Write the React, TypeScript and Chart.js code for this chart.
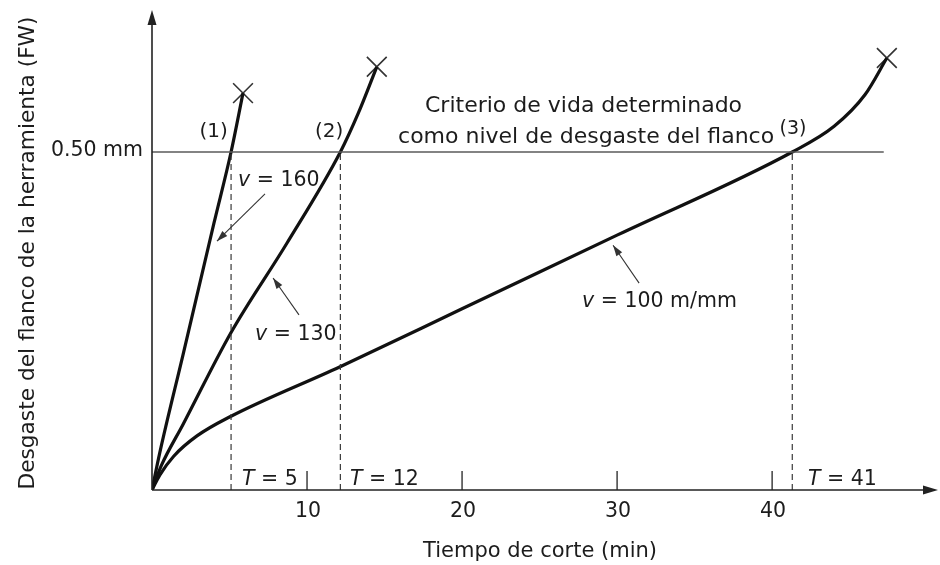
import React, { useEffect, useRef } from 'react';
import { Chart, registerables } from 'chart.js';

Chart.register(...registerables);

// ---- data ----
const xMax = 50.7;
const yMax = 0.71;
const xTicks = [10, 20, 30, 40];
const criterionY = 0.5;
const criterionEndX = 47.2;

const curve1 = [
  { x: 0, y: 0 },
  { x: 0.5, y: 0.055 },
  { x: 2.0, y: 0.2 },
  { x: 4.0, y: 0.395 },
  { x: 5.1, y: 0.5 },
  { x: 5.87, y: 0.587 },
];
const curve2 = [
  { x: 0, y: 0 },
  { x: 0.6, y: 0.036 },
  { x: 2.0, y: 0.097 },
  { x: 5.1, y: 0.233 },
  { x: 8.7, y: 0.365 },
  { x: 12.15, y: 0.5 },
  { x: 13.3, y: 0.557 },
  { x: 14.5, y: 0.626 },
];
const curve3 = [
  { x: 0, y: 0 },
  { x: 0.5, y: 0.022 },
  { x: 1.4, y: 0.05 },
  { x: 2.9, y: 0.08 },
  { x: 5.0, y: 0.108 },
  { x: 12.1, y: 0.182 },
  { x: 20.0, y: 0.268 },
  { x: 30.0, y: 0.377 },
  { x: 41.3, y: 0.5 },
  { x: 44.0, y: 0.538 },
  { x: 46.0, y: 0.585 },
  { x: 47.4, y: 0.639 },
];
const endPoints = [
  { x: 5.87, y: 0.587 },
  { x: 14.5, y: 0.626 },
  { x: 47.4, y: 0.639 },
];
const lifeTimes = [5.1, 12.15, 41.3];
const lifeLabels = ['5', '12', '41'];
const speedLabels = ['160', '130', '100 m/mm'];
const curveNumbers = ['(1)', '(2)', '(3)'];
const yTickLabel = '0.50 mm';
const xTitle = 'Tiempo de corte (min)';
const yTitle = 'Desgaste del flanco de la herramienta (FW)';
const criterionText = ['Criterio de vida determinado', 'como nivel de desgaste del flanco'];

const FONT = '"DejaVu Sans", sans-serif';
const TEXT = '#1c1c1c';

function drawParts(ctx: CanvasRenderingContext2D, parts: [string, boolean][], x: number, y: number, size: number) {
  let cx = x;
  for (const [t, it] of parts) {
    ctx.font = `${it ? 'italic ' : ''}${size}px ${FONT}`;
    ctx.fillText(t, cx, y);
    cx += ctx.measureText(t).width;
  }
}

function arrow(ctx: CanvasRenderingContext2D, x1: number, y1: number, x2: number, y2: number) {
  ctx.beginPath();
  ctx.moveTo(x1, y1);
  ctx.lineTo(x2, y2);
  ctx.stroke();
  const a = Math.atan2(y2 - y1, x2 - x1);
  const L = 11, W = 3.5;
  ctx.beginPath();
  ctx.moveTo(x2, y2);
  ctx.lineTo(x2 - L * Math.cos(a) + W * Math.sin(a), y2 - L * Math.sin(a) - W * Math.cos(a));
  ctx.lineTo(x2 - L * Math.cos(a) - W * Math.sin(a), y2 - L * Math.sin(a) + W * Math.cos(a));
  ctx.closePath();
  ctx.fill();
}

const annotate = {
  id: 'annotate',
  afterDraw(chart: any) {
    const { ctx, chartArea } = chart;
    const xs = chart.scales.x;
    const ys = chart.scales.y;
    const X = (v: number) => xs.getPixelForValue(v);
    const Y = (v: number) => ys.getPixelForValue(v);
    ctx.save();
    ctx.strokeStyle = '#222';
    ctx.fillStyle = '#222';
    ctx.lineWidth = 1.6;
    // y axis with arrow
    const x0 = X(0), y0 = Y(0);
    ctx.beginPath();
    ctx.moveTo(x0, y0);
    ctx.lineTo(x0, chartArea.top + 10);
    ctx.stroke();
    ctx.beginPath();
    ctx.moveTo(x0, chartArea.top);
    ctx.lineTo(x0 - 4.5, chartArea.top + 15);
    ctx.lineTo(x0 + 4.5, chartArea.top + 15);
    ctx.closePath();
    ctx.fill();
    // x axis with arrow
    ctx.beginPath();
    ctx.moveTo(x0, y0);
    ctx.lineTo(chartArea.right - 10, y0);
    ctx.stroke();
    ctx.beginPath();
    ctx.moveTo(chartArea.right, y0);
    ctx.lineTo(chartArea.right - 15, y0 - 4.5);
    ctx.lineTo(chartArea.right - 15, y0 + 4.5);
    ctx.closePath();
    ctx.fill();
    // x ticks
    ctx.lineWidth = 1.3;
    ctx.fillStyle = TEXT;
    ctx.font = `20.5px ${FONT}`;
    ctx.textAlign = 'center';
    ctx.textBaseline = 'alphabetic';
    for (const t of xTicks) {
      ctx.beginPath();
      ctx.moveTo(X(t), y0);
      ctx.lineTo(X(t), y0 - 19);
      ctx.stroke();
      ctx.fillText(String(t), X(t) + 1, y0 + 27);
    }
    // y tick label
    ctx.textAlign = 'right';
    ctx.fillText(yTickLabel, x0 - 9, Y(criterionY) + 4);
    // titles
    ctx.textAlign = 'center';
    ctx.font = `21px ${FONT}`;
    ctx.fillText(xTitle, 540, 557);
    ctx.save();
    ctx.translate(33.5, 253);
    ctx.rotate(-Math.PI / 2);
    ctx.font = `21.7px ${FONT}`;
    ctx.fillText(yTitle, 0, 0);
    ctx.restore();
    // criterion text
    ctx.textAlign = 'left';
    ctx.font = `22px ${FONT}`;
    ctx.fillText(criterionText[0], X(17.61), Y(0.559));
    ctx.fillText(criterionText[1], X(15.87), Y(0.513));
    // curve numbers
    ctx.textAlign = 'center';
    ctx.font = `20px ${FONT}`;
    ctx.fillText(curveNumbers[0], X(3.97), Y(0.522));
    ctx.fillText(curveNumbers[1], X(11.42), Y(0.522));
    ctx.font = `19px ${FONT}`;
    ctx.fillText(curveNumbers[2], X(41.35), Y(0.526));
    // T labels
    ctx.textAlign = 'left';
    const tPos = [5.81, 12.77, 42.32];
    lifeLabels.forEach((l, i) => {
      drawParts(ctx, [['T', true], [' = ' + l, false]], X(tPos[i]), y0 - 5, 20.5);
    });
    // speed labels
    const sPos = [
      [5.55, 0.45],
      [6.65, 0.222],
      [27.74, 0.271],
    ];
    speedLabels.forEach((l, i) => {
      drawParts(ctx, [['v', true], [' = ' + l, false]], X(sPos[i][0]), Y(sPos[i][1]), 20.5);
    });
    // arrows
    ctx.lineWidth = 1.1;
    ctx.strokeStyle = '#333';
    ctx.fillStyle = '#333';
    arrow(ctx, X(7.29), Y(0.438), X(4.19), Y(0.368));
    arrow(ctx, X(9.48), Y(0.259), X(7.81), Y(0.3136));
    arrow(ctx, X(31.42), Y(0.306), X(29.74), Y(0.362));
    ctx.restore();
  },
};

export default function App() {
  const ref = useRef<HTMLCanvasElement>(null);
  useEffect(() => {
    if (!ref.current) return;
    const curveStyle = {
      borderColor: '#111',
      borderWidth: 3.2,
      pointRadius: 0,
      cubicInterpolationMode: 'monotone' as const,
      fill: false,
    };
    const dashStyle = {
      borderColor: '#3a3a3a',
      borderWidth: 1.2,
      borderDash: [6, 4],
      pointRadius: 0,
      fill: false,
    };
    const chart = new Chart(ref.current, {
      type: 'line',
      data: {
        datasets: [
          {
            label: 'criterio',
            data: [
              { x: 0, y: criterionY },
              { x: criterionEndX, y: criterionY },
            ],
            borderColor: '#5a5a5a',
            borderWidth: 1.6,
            pointRadius: 0,
          },
          ...lifeTimes.map((t, i) => ({
            label: 'T = ' + lifeLabels[i],
            data: [
              { x: t, y: 0 },
              { x: t, y: criterionY },
            ],
            ...dashStyle,
          })),
          { label: 'v = 160', data: curve1, ...curveStyle },
          { label: 'v = 130', data: curve2, ...curveStyle },
          { label: 'v = 100', data: curve3, ...curveStyle },
          {
            label: 'fin',
            data: endPoints,
            showLine: false,
            pointStyle: 'crossRot',
            pointRadius: 14,
            pointBorderWidth: 1.6,
            pointBorderColor: '#333',
            borderColor: '#333',
          },
        ],
      },
      options: {
        animation: false,
        responsive: false,
        maintainAspectRatio: false,
        layout: { autoPadding: false, padding: { left: 152, right: 2, top: 10, bottom: 75 } },
        plugins: { legend: { display: false }, tooltip: { enabled: false } },
        scales: {
          x: { type: 'linear', min: 0, max: xMax, display: false },
          y: { type: 'linear', min: 0, max: yMax, display: false },
        },
      },
      plugins: [annotate],
    });
    return () => chart.destroy();
  }, []);
  return (
    <div style={{ position: 'absolute', left: 0, top: 0, width: 940, height: 565, background: '#fff' }}>
      <canvas ref={ref} width={940} height={565} />
    </div>
  );
}
